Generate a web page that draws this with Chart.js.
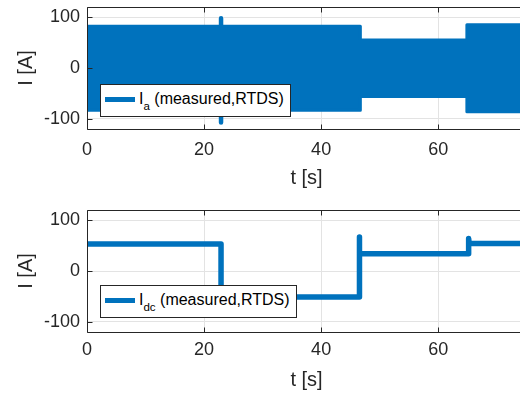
<!DOCTYPE html>
<html>
<head>
<meta charset="utf-8">
<script src="https://cdn.jsdelivr.net/npm/chart.js@4.4.0/dist/chart.umd.min.js"></script>
<style>
  html, body { margin: 0; padding: 0; background: #fff; width: 520px; height: 396px; overflow: hidden; }
  .panel { position: relative; width: 530px; }
  canvas { display: block; }
  .legend {
    position: absolute; left: 100px; height: 33px;
    box-sizing: border-box; border: 1px solid #262626; background: #fff;
    font-family: "Liberation Sans", Arial, sans-serif; color: #000; white-space: nowrap;
  }
  .legend .swatch { position: absolute; left: 4px; top: 12px; width: 30px; height: 5px; background: #0072BD; }
  .legend .lbl { position: absolute; left: 38px; font-size: 16px; line-height: 16px; }
  .legend sub { font-size: 11.5px; vertical-align: -6px; line-height: 0; }
</style>
</head>
<body>
<div class="panel" style="height:203px">
  <canvas id="acChart" width="530" height="203"></canvas>
  <div class="legend" style="top:84px;width:191px"><span class="swatch"></span><span class="lbl" style="top:6px">I<sub>a</sub> (measured,RTDS)</span></div>
</div>
<div class="panel" style="height:193px">
  <canvas id="dcChart" width="530" height="193"></canvas>
  <div class="legend" style="top:82px;width:197px"><span class="swatch"></span><span class="lbl" style="top:5.5px">I<sub>dc</sub> (measured,RTDS)</span></div>
</div>
<script>
// ----------------------
// DATA
// ----------------------
const xTicks = [0, 20, 40, 60];
const yTicks = [-100, 0, 100];

// phase current: the 50 Hz wave is far too dense at this scale, so it is drawn as its envelope
const tA = [0, 46.7, 46.7, 64.9, 64.9, 75];
const iaUpper = [82, 82, 55, 55, 85, 85];
const iaLower = [-83, -83, -56, -56, -86, -86];
// short transient at the dc reversal
const tSpike = [22.9, 22.9];
const iaSpike = [98, -107];

// dc current
const tDc = [0, 22.9, 22.9, 46.5, 46.5, 46.6, 65.2, 65.2, 65.3, 75];
const idc = [53, 53, -51, -51, 67, 34, 34, 64, 54, 54];

// ----------------------
// STYLE
// ----------------------
const blue = "#0072BD";
const axisColor = "#262626";
const gridColor = "#e3e3e3";
Chart.defaults.font.family = '"Liberation Sans", Arial, sans-serif';

const toPoints = (xs, ys) => xs.map((x, i) => ({ x, y: ys[i] }));

// box around the plot area + inward tick marks, like matlab axes
const matlabBox = {
  id: "matlabBox",
  afterDraw(chart) {
    const { ctx, chartArea: a, scales } = chart;
    const L = Math.round(a.left) + 0.5, T = Math.round(a.top) + 0.5;
    const R = Math.round(a.right) + 0.5, B = Math.round(a.bottom) + 0.5;
    ctx.save();
    ctx.strokeStyle = axisColor;
    ctx.lineWidth = 1;
    ctx.beginPath();
    ctx.rect(L, T, R - L, B - T);
    scales.x.ticks.forEach(t => {
      const px = Math.round(scales.x.getPixelForValue(t.value)) + 0.5;
      ctx.moveTo(px, B); ctx.lineTo(px, B - 5);
      ctx.moveTo(px, T); ctx.lineTo(px, T + 5);
    });
    scales.y.ticks.forEach(t => {
      const py = Math.round(scales.y.getPixelForValue(t.value)) + 0.5;
      ctx.moveTo(L, py); ctx.lineTo(L + 5, py);
      ctx.moveTo(R, py); ctx.lineTo(R - 5, py);
    });
    ctx.stroke();
    ctx.restore();
  }
};

function makeChart(id, datasets, box) {
  const canvas = document.getElementById(id);
  return new Chart(canvas.getContext("2d"), {
    type: "line",
    data: { datasets },
    options: {
      responsive: false,
      animation: false,
      layout: { padding: { top: 7, right: 4, left: 0, bottom: 0 } },
      plugins: { legend: { display: false }, tooltip: { enabled: false } },
      elements: { point: { radius: 0 }, line: { tension: 0, borderJoinStyle: "round", borderCapStyle: "round" } },
      scales: {
        x: {
          type: "linear", min: 0, max: 75,
          afterBuildTicks: s => { s.ticks = xTicks.map(v => ({ value: v })); },
          afterFit: s => { s.height = canvas.height - box.bottom; s.paddingLeft = 0; s.paddingRight = 0; },
          grid: { color: gridColor, drawTicks: false },
          border: { display: false },
          ticks: { color: axisColor, font: { size: 18 }, padding: box.tickPad, maxRotation: 0 },
          title: { display: true, text: "t [s]", color: axisColor, font: { size: 20 }, padding: { top: 0, bottom: box.titlePad } }
        },
        y: {
          min: -120, max: 120,
          afterBuildTicks: s => { s.ticks = yTicks.map(v => ({ value: v })); },
          afterFit: s => { s.width = 87; s.paddingTop = 0; s.paddingBottom = 0; },
          grid: { color: gridColor, drawTicks: false },
          border: { display: false },
          ticks: { color: axisColor, font: { size: 18 }, padding: 7 },
          title: { display: true, text: "I [A]", color: axisColor, font: { size: 20 }, padding: { top: 14, bottom: 0 } }
        }
      }
    },
    plugins: [matlabBox]
  });
}

// ----------------------
// CHARTS
// ----------------------
makeChart("acChart", [
  { data: toPoints(tA, iaUpper), borderColor: blue, borderWidth: 3, fill: false },
  { data: toPoints(tA, iaLower), borderColor: blue, borderWidth: 3, backgroundColor: blue, fill: "-1" },
  { data: toPoints(tSpike, iaSpike), borderColor: blue, borderWidth: 4.5, fill: false }
], { bottom: 129, tickPad: 10, titlePad: 12.5 });

makeChart("dcChart", [
  { data: toPoints(tDc, idc), borderColor: blue, borderWidth: 5.5, fill: false }
], { bottom: 129, tickPad: 7.5, titlePad: 4 });
</script>
</body>
</html>
